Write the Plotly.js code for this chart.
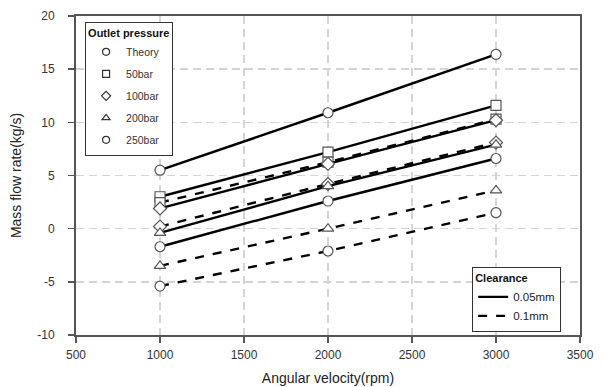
<!DOCTYPE html>
<html>
<head>
<meta charset="utf-8">
<script src="https://cdn.plot.ly/plotly-3.0.1.min.js"></script>
<style>html,body{margin:0;padding:0;background:#fff;}#chart{width:609px;height:387px;}</style>
</head>
<body>
<div id="chart"></div>
<script>
// Angular velocity (rpm)
var rpm = [1000, 2000, 3000];
// Mass flow rate (kg/s)
var theory   = [5.5, 10.9, 16.4];
var p50_005  = [3.0, 7.2, 11.6];
var p50_01   = [2.45, 6.25, 10.3];
var p100_005 = [1.9, 6.1, 10.2];
var p100_01  = [0.2, 4.2, 8.1];
var p200_005 = [-0.4, 4.0, 7.9];
var p200_01  = [-3.5, 0.0, 3.6];
var p250_005 = [-1.7, 2.6, 6.6];
var p250_01  = [-5.4, -2.1, 1.5];

var pressureNames = ['Theory', '50bar', '100bar', '200bar', '250bar'];
var pressureSymbols = ['circle', 'square', 'diamond', 'triangle-up', 'circle'];
var clearanceNames = ['0.05mm', '0.1mm'];

var markerStyle = function (sym) {
  return {symbol: sym, size: 10, color: '#ffffff', line: {color: '#555555', width: 1.2}};
};

function dataTrace(y, sym, dash) {
  return {
    x: rpm, y: y, type: 'scatter', mode: 'lines+markers',
    line: {color: '#000000', width: 2.4, dash: dash},
    marker: markerStyle(sym),
    showlegend: false, hoverinfo: 'skip'
  };
}

var traces = [
  dataTrace(theory, 'circle', 'solid'),
  dataTrace(p50_005, 'square', 'solid'),
  dataTrace(p50_01, 'square', 'dash'),
  dataTrace(p100_005, 'diamond', 'solid'),
  dataTrace(p100_01, 'diamond', 'dash'),
  dataTrace(p200_005, 'triangle-up', 'solid'),
  dataTrace(p250_005, 'circle', 'solid'),
  dataTrace(p200_01, 'triangle-up', 'dash'),
  dataTrace(p250_01, 'circle', 'dash')
];

// Legend entries: pressures (markers)
pressureNames.forEach(function (n, i) {
  traces.push({
    x: [null], y: [null], type: 'scatter', mode: 'markers', name: n,
    legend: 'legend', legendgroup: 'p' + i,
    marker: {symbol: pressureSymbols[i], size: 7, color: '#ffffff', line: {color: '#333333', width: 1.2}},
    showlegend: true
  });
});
// Legend entries: clearance (lines)
clearanceNames.forEach(function (n, i) {
  traces.push({
    x: [null], y: [null], type: 'scatter', mode: 'lines', name: n,
    legend: 'legend2',
    line: {color: '#000000', width: 2.4, dash: i === 0 ? 'solid' : 'dash'},
    showlegend: true
  });
});

var axisCommon = {
  showline: true, linecolor: '#555555', linewidth: 2, mirror: true,
  ticks: 'outside', ticklen: 6, tickwidth: 1.5, tickcolor: '#555555',
  showgrid: true, gridcolor: '#d4d4d4', gridwidth: 1.5, griddash: '8px,5px',
  zeroline: false,
  tickfont: {family: 'Liberation Sans, Arial, sans-serif', size: 12, color: '#333333'}
};

var layout = {
  width: 609, height: 387,
  margin: {l: 76, r: 29, t: 16, b: 52},
  paper_bgcolor: '#ffffff', plot_bgcolor: '#ffffff',
  font: {family: 'Liberation Sans, Arial, sans-serif', color: '#222222'},
  xaxis: Object.assign({}, axisCommon, {
    range: [500, 3500], tickvals: [500, 1000, 1500, 2000, 2500, 3000, 3500],
    ticktext: ['500', '1000', '1500', '2000', '2500', '3000', '3500'],
    ticklabelstandoff: 2,
    title: {text: 'Angular velocity(rpm)', font: {size: 14, color: '#222222'}, standoff: 12}
  }),
  yaxis: Object.assign({}, axisCommon, {
    range: [-10, 20], tickvals: [-10, -5, 0, 5, 10, 15, 20],
    ticktext: ['-10', '-5', '0', '5', '10', '15', '20'],
    ticklabelstandoff: 11,
    title: {text: 'Mass flow rate(kg/s)', font: {size: 14, color: '#222222'}, standoff: 12}
  }),
  legend: {
    x: 0.018, y: 0.981, xanchor: 'left', yanchor: 'top',
    bgcolor: '#ffffff', bordercolor: '#333333', borderwidth: 1,
    title: {text: '<b>Outlet pressure</b>', font: {size: 11, color: '#111111'}},
    font: {size: 10.5, color: '#333333'},
    traceorder: 'grouped', tracegroupgap: 3, itemwidth: 30, entrywidth: 100
  },
  legend2: {
    x: 0.786, y: 0.213, xanchor: 'left', yanchor: 'top',
    bgcolor: '#ffffff', bordercolor: '#333333', borderwidth: 1,
    title: {text: '<b>Clearance</b>', font: {size: 11, color: '#111111'}},
    font: {size: 11.5, color: '#222222'},
    itemwidth: 30, entrywidth: 98
  },
  showlegend: true
};

Plotly.newPlot('chart', traces, layout, {displayModeBar: false, staticPlot: true});
</script>
</body>
</html>
